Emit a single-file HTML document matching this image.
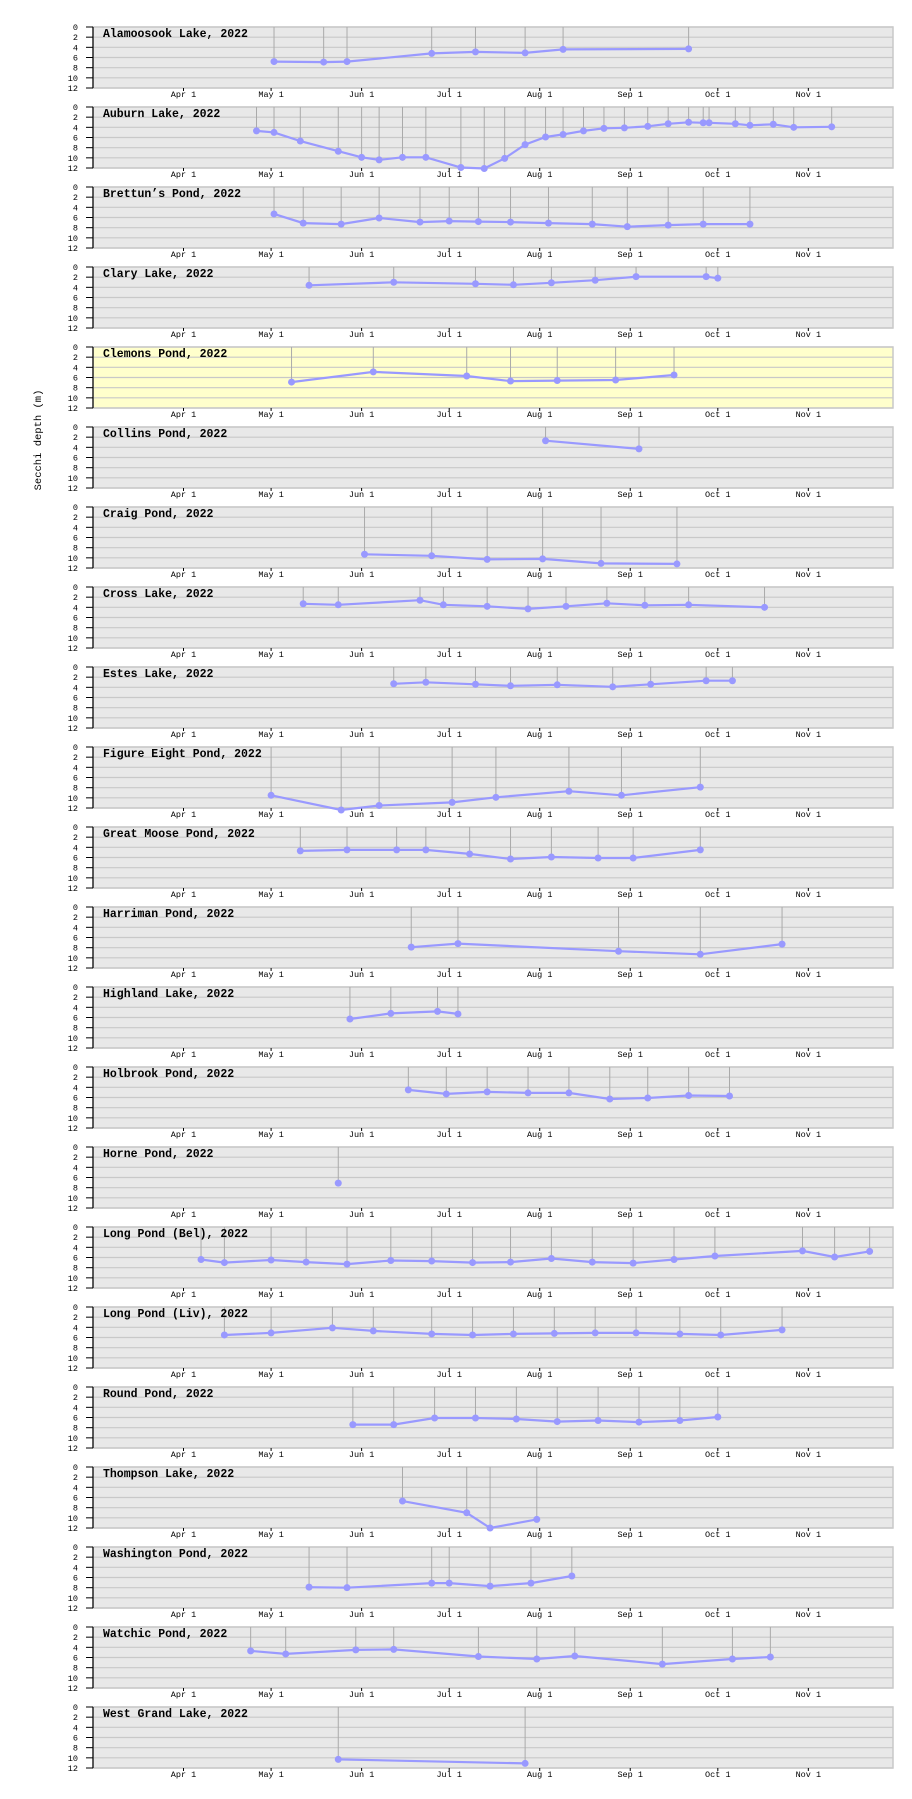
<!DOCTYPE html>
<html>
<head>
<meta charset="utf-8">
<title>Secchi depth 2022</title>
<style>
  html,body{margin:0;padding:0;background:#fff;}
  svg{display:block;}
  text{font-family:"Liberation Mono","DejaVu Sans Mono",monospace;fill:#000;}
  .title{font-size:11.5px;font-weight:bold;}
  .tick{font-size:8.5px;}
  .ytitle{font-size:10.5px;}
</style>
</head>
<body>
<svg id="chart" width="912" height="1799" viewBox="0 0 912 1799" xmlns="http://www.w3.org/2000/svg">
  <text class="ytitle" x="0" y="0" transform="translate(41,440) rotate(-90)" text-anchor="middle">Secchi depth (m)</text>
</svg>
<script>
const lakeNames = ["Alamoosook Lake","Auburn Lake","Brettun\u2019s Pond","Clary Lake","Clemons Pond","Collins Pond","Craig Pond","Cross Lake","Estes Lake","Figure Eight Pond","Great Moose Pond","Harriman Pond","Highland Lake","Holbrook Pond","Horne Pond","Long Pond (Bel)","Long Pond (Liv)","Round Pond","Thompson Lake","Washington Pond","Watchic Pond","West Grand Lake"];
const highlightedLake = "Clemons Pond";
const sampleDays = [
  [122,139,147,176,191,208,221,264],
  [116,122,131,144,152,158,166,174,186,194,201,208,215,221,228,235,242,250,257,264,269,271,280,285,293,300,313],
  [122,132,145,158,172,182,192,203,216,231,243,257,269,285],
  [134,163,191,204,217,232,246,270,274],
  [128,156,188,203,219,239,259],
  [215,247],
  [153,176,195,214,234,260],
  [132,144,172,180,195,209,222,236,249,264,290],
  [163,174,191,203,219,238,251,270,279],
  [121,145,158,183,198,223,241,268],
  [131,147,164,174,189,203,217,233,245,268],
  [169,185,240,268,296],
  [148,162,178,185],
  [168,181,195,209,223,237,250,264,278],
  [144],
  [97,105,121,133,147,162,176,190,203,217,231,245,259,273,303,314,326],
  [105,121,142,156,176,190,204,218,232,246,261,275,296],
  [149,163,177,191,205,219,233,247,261,274],
  [166,188,196,212],
  [134,147,176,182,196,210,224],
  [114,126,150,163,192,212,225,255,279,292],
  [144,208]
];
const secchiDepths = [
  [6.8,6.9,6.8,5.2,4.9,5.1,4.4,4.3],
  [4.7,5.0,6.7,8.7,9.9,10.4,9.9,9.9,11.9,12.1,10.1,7.4,5.9,5.4,4.7,4.2,4.1,3.8,3.3,3.0,3.1,3.1,3.3,3.6,3.4,4.0,3.9],
  [5.3,7.1,7.3,6.1,6.9,6.7,6.8,6.9,7.1,7.3,7.8,7.5,7.3,7.3],
  [3.6,3.0,3.3,3.5,3.1,2.6,1.9,1.9,2.2],
  [6.9,4.9,5.7,6.7,6.6,6.5,5.5],
  [2.7,4.3],
  [9.3,9.6,10.3,10.2,11.1,11.2],
  [3.3,3.5,2.6,3.5,3.8,4.3,3.8,3.2,3.6,3.5,4.0],
  [3.3,3.0,3.4,3.7,3.5,3.9,3.4,2.7,2.7],
  [9.5,12.4,11.5,10.9,9.9,8.7,9.5,7.9],
  [4.7,4.5,4.5,4.5,5.3,6.3,5.9,6.1,6.1,4.5],
  [7.9,7.2,8.7,9.3,7.3],
  [6.3,5.2,4.8,5.3],
  [4.5,5.3,4.9,5.1,5.1,6.3,6.1,5.6,5.7],
  [7.1],
  [6.4,7.0,6.5,6.9,7.3,6.6,6.7,7.0,6.9,6.2,6.9,7.1,6.4,5.7,4.7,5.9,4.8],
  [5.5,5.1,4.1,4.7,5.3,5.5,5.3,5.2,5.1,5.1,5.3,5.5,4.5],
  [7.4,7.4,6.1,6.1,6.3,6.8,6.6,6.9,6.6,5.9],
  [6.7,9.0,12.0,10.3],
  [7.9,8.0,7.1,7.1,7.7,7.1,5.7],
  [4.7,5.3,4.5,4.4,5.8,6.3,5.7,7.3,6.3,5.9],
  [10.3,11.1]
];
const xTickDays = [91,121,152,182,213,244,274,305];
const xTickLabels = ["Apr 1","May 1","Jun 1","Jul 1","Aug 1","Sep 1","Oct 1","Nov 1"];
const yTickValues = [0,2,4,6,8,10,12];
const yearLabel = "2022";

const NS = "http://www.w3.org/2000/svg";
const svg = document.getElementById("chart");
const plotLeft = 93, plotRight = 893, panelTop0 = 27, panelPitch = 80, panelH = 61;
const dayMin = 60, dayMax = 334, depthMax = 12;
function xScale(d){ return plotLeft + (d - dayMin) / (dayMax - dayMin) * (plotRight - plotLeft); }
function yScale(v, top){ return top + v / depthMax * panelH; }
function mk(tag, attrs, parent){
  const e = document.createElementNS(NS, tag);
  for (const k in attrs) e.setAttribute(k, attrs[k]);
  (parent || svg).appendChild(e);
  return e;
}

lakeNames.forEach((name, i) => {
  const top = panelTop0 + i * panelPitch;
  const bottom = top + panelH;
  const g = mk("g", {});
  
  

  const bg = mk("rect", {x: plotLeft, y: top, width: plotRight - plotLeft, height: panelH, fill: name === highlightedLake ? "#ffffcc" : "#e8e8e8", stroke: "#c8c8c8", "stroke-width": 1.5}, g);
  
  

  yTickValues.forEach(v => {
    const y = yScale(v, top);
    const gl = mk("line", {x1: plotLeft, x2: plotRight, y1: y, y2: y, stroke: "#c8c8c8", "stroke-width": 1.2}, g);
    
    
    const tk = mk("line", {x1: 86, x2: plotLeft, y1: y, y2: y, stroke: "#000", "stroke-width": 1}, g);
    
    
    const tl = mk("text", {x: 78, y: y + 3, "text-anchor": "end", class: "tick"}, g);
    tl.textContent = String(v);
    
    
  });
  const ax = mk("line", {x1: plotLeft, x2: plotLeft, y1: top, y2: bottom, stroke: "#000", "stroke-width": 1.2}, g);
  
  

  xTickDays.forEach((d, k) => {
    const x = xScale(d);
    const tk = mk("line", {x1: x, x2: x, y1: bottom, y2: bottom + 3, stroke: "#000", "stroke-width": 1}, g);
    
    
    const tl = mk("text", {x: x, y: bottom + 9, "text-anchor": "middle", class: "tick"}, g);
    tl.textContent = xTickLabels[k];
    
    
  });

  const days = sampleDays[i], vals = secchiDepths[i];
  days.forEach((d, k) => {
    const x = xScale(d);
    const st = mk("line", {x1: x, x2: x, y1: top, y2: yScale(vals[k], top), stroke: "#aaaaaa", "stroke-width": 1}, g);
    
    
  });
  if (days.length > 1) {
    const pts = days.map((d, k) => xScale(d).toFixed(1) + "," + yScale(vals[k], top).toFixed(1)).join(" ");
    const pl = mk("polyline", {points: pts, fill: "none", stroke: "#9999ff", "stroke-width": 2.2}, g);
    
    
  }
  days.forEach((d, k) => {
    const c = mk("circle", {cx: xScale(d), cy: yScale(vals[k], top), r: 3.5, fill: "#9999ff"}, g);
    
    
  });

  const t = mk("text", {x: 103, y: top + 10, class: "title"}, g);
  t.textContent = name + ", " + yearLabel;
  
  
});
</script>
</body>
</html>
